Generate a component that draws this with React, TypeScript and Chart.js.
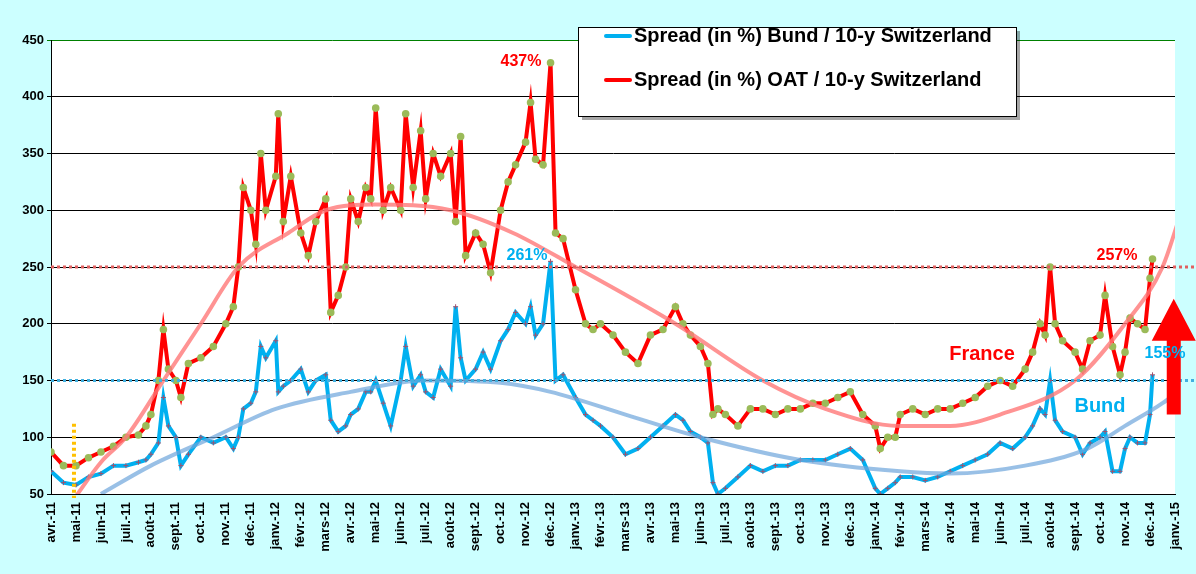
import React, { useEffect, useRef } from "react";
import { Chart, registerables } from "chart.js";
Chart.register(...registerables);

const monthLabels = ["avr.-11","mai-11","juin-11","juil.-11","août-11","sept.-11","oct.-11","nov.-11","déc.-11","janv.-12","févr.-12","mars-12","avr.-12","mai-12","juin-12","juil.-12","août-12","sept.-12","oct.-12","nov.-12","déc.-12","janv.-13","févr.-13","mars-13","avr.-13","mai-13","juin-13","juil.-13","août-13","sept.-13","oct.-13","nov.-13","déc.-13","janv.-14","févr.-14","mars-14","avr.-14","mai-14","juin-14","juil.-14","août-14","sept.-14","oct.-14","nov.-14","déc.-14","janv.-15"];

const oatX = [0,0.5,1,1.5,2,2.5,3,3.5,3.8,4,4.3,4.5,4.7,5,5.2,5.5,6,6.5,7,7.3,7.5,7.7,8,8.2,8.4,8.6,9,9.1,9.3,9.6,10,10.3,10.6,11,11.2,11.5,11.8,12,12.3,12.6,12.8,13,13.3,13.6,14,14.2,14.5,14.8,15,15.3,15.6,16,16.2,16.4,16.6,17,17.3,17.6,18,18.3,18.6,19,19.2,19.4,19.7,20,20.2,20.5,21,21.4,21.7,22,22.5,23,23.5,24,24.5,25,25.3,25.6,26,26.3,26.5,26.7,27,27.5,28,28.5,29,29.5,30,30.5,31,31.5,32,32.5,33,33.2,33.5,33.8,34,34.5,35,35.5,36,36.5,37,37.5,38,38.5,39,39.3,39.6,39.8,40,40.2,40.5,41,41.3,41.6,42,42.2,42.5,42.8,43,43.2,43.5,43.8,44,44.1];
const oatValues = [87,75,75,82,87,92,100,102,110,120,150,195,160,150,135,165,170,180,200,215,250,320,300,270,350,300,330,385,290,330,280,260,290,310,210,225,250,310,290,320,310,390,300,320,300,385,320,370,310,350,330,350,290,365,260,280,270,245,300,325,340,360,395,345,340,430,280,275,230,200,195,200,190,175,165,190,195,215,200,190,180,165,120,125,120,110,125,125,120,125,125,130,130,135,140,120,110,90,100,100,120,125,120,125,125,130,135,145,150,145,160,175,200,190,250,200,185,175,160,185,190,225,180,155,175,205,200,195,240,257];
const bundValues = [70,60,58,65,68,75,75,78,80,85,95,135,110,100,75,85,100,95,100,90,100,125,130,140,180,170,185,140,145,150,160,140,150,155,115,105,110,120,125,140,140,150,130,110,150,180,145,155,140,135,160,145,215,170,150,160,175,160,185,195,210,200,215,190,200,255,150,155,135,120,115,110,100,85,90,100,110,120,115,105,100,95,60,50,55,65,75,70,75,75,80,80,80,85,90,80,55,50,55,60,65,65,62,65,70,75,80,85,95,90,100,110,125,120,150,115,105,100,85,95,100,105,70,70,90,100,95,95,120,155];

const trendX = [0.9,2,3,4.5,6,7.5,9.5,11,13,16,18.5,21,25,28.5,31,34,36,38,41,43,44.5,45.2];
const oatTrend = [45,78,100,150,200,250,280,300,305,300,280,250,200,150,125,110,110,120,150,200,250,295];
const bundTrendX = [2,4,6.5,9,12,15,18,20,23,26,30,34,36,39,41.5,43,44.5,45.2];
const bundTrend = [50,75,100,125,140,150,148,140,120,100,80,70,68,75,90,110,130,142];

const pts = (xs: number[], ys: number[]) => xs.map((x, i) => ({ x, y: ys[i] }));
const FONT = "Arial, 'Liberation Sans', sans-serif";

export default function App() {
  const ref = useRef<HTMLCanvasElement>(null);
  useEffect(() => {
    const overlay = {
      id: "overlay",
      beforeDraw(c: any) {
        const { ctx, chartArea: a } = c;
        ctx.save();
        ctx.fillStyle = "#ccffff";
        ctx.fillRect(0, 0, c.width, c.height);
        ctx.fillStyle = "#ffffff";
        ctx.fillRect(a.left, a.top, a.right - a.left, a.bottom - a.top);
        ctx.restore();
      },
      afterDatasetsDraw(c: any) {
        const { ctx, chartArea: a, scales } = c;
        const xs = scales.x, ys = scales.y;
        ctx.save();
        ctx.setLineDash([3, 3]);
        ctx.lineWidth = 3;
        ctx.strokeStyle = "#e06060";
        ctx.beginPath(); ctx.moveTo(a.left, ys.getPixelForValue(250)); ctx.lineTo(a.right + 20, ys.getPixelForValue(250)); ctx.stroke();
        ctx.strokeStyle = "#40b0e0";
        ctx.beginPath(); ctx.moveTo(a.left, ys.getPixelForValue(150)); ctx.lineTo(a.right + 20, ys.getPixelForValue(150)); ctx.stroke();
        ctx.strokeStyle = "#ffc000";
        ctx.lineWidth = 4;
        ctx.beginPath(); ctx.moveTo(xs.getPixelForValue(0.92), ys.getPixelForValue(112)); ctx.lineTo(xs.getPixelForValue(0.92), a.bottom + 4); ctx.stroke();
        ctx.setLineDash([]);
        const ax = xs.getPixelForValue(44.95);
        ctx.fillStyle = "#ff0000";
        ctx.beginPath();
        ctx.moveTo(ax - 7, ys.getPixelForValue(120));
        ctx.lineTo(ax + 7, ys.getPixelForValue(120));
        ctx.lineTo(ax + 7, ys.getPixelForValue(185));
        ctx.lineTo(ax + 22, ys.getPixelForValue(185));
        ctx.lineTo(ax, ys.getPixelForValue(222));
        ctx.lineTo(ax - 22, ys.getPixelForValue(185));
        ctx.lineTo(ax - 7, ys.getPixelForValue(185));
        ctx.closePath(); ctx.fill();
        const txt = (s: string, x: number, y: number, col: string, size: number) => {
          ctx.font = `bold ${size}px ${FONT}`;
          ctx.fillStyle = col; ctx.textAlign = "center"; ctx.textBaseline = "middle";
          ctx.fillText(s, x, y);
        };
        txt("437%", 521, 62, "#ff0000", 16);
        txt("261%", 527, 256, "#00b0f0", 16);
        txt("257%", 1117, 256, "#ff0000", 16);
        txt("155%", 1165, 354, "#00b0f0", 16);
        txt("France", 982, 354, "#ff0000", 20);
        txt("Bund", 1100, 406, "#00b0f0", 20);
        ctx.fillStyle = "rgba(0,0,0,0.35)";
        ctx.fillRect(582, 31, 438, 89);
        ctx.fillStyle = "#ffffff";
        ctx.fillRect(578, 27, 438, 89);
        ctx.strokeStyle = "#000"; ctx.lineWidth = 1;
        ctx.strokeRect(578.5, 27.5, 438, 89);
        ctx.lineWidth = 4; ctx.lineCap = "round";
        ctx.strokeStyle = "#00b0f0"; ctx.beginPath(); ctx.moveTo(606, 36); ctx.lineTo(630, 36); ctx.stroke();
        ctx.strokeStyle = "#ff0000"; ctx.beginPath(); ctx.moveTo(606, 80); ctx.lineTo(630, 80); ctx.stroke();
        ctx.font = `bold 20px ${FONT}`;
        ctx.fillStyle = "#000"; ctx.textAlign = "left"; ctx.textBaseline = "middle";
        ctx.fillText("Spread (in %) Bund / 10-y Switzerland", 634, 36);
        ctx.fillText("Spread (in %) OAT / 10-y Switzerland", 634, 80);
        ctx.restore();
      },
    };
    const chart = new Chart(ref.current!, {
      type: "line",
      data: {
        datasets: [
          { label: "oatTrend", data: pts(trendX, oatTrend), borderColor: "rgba(255,120,120,0.8)", borderWidth: 4, pointRadius: 0, cubicInterpolationMode: "monotone" },
          { label: "bundTrend", data: pts(bundTrendX, bundTrend), borderColor: "rgba(110,165,220,0.7)", borderWidth: 4, pointRadius: 0, cubicInterpolationMode: "monotone" },
          { label: "OAT", data: pts(oatX, oatValues), borderColor: "#ff0000", borderWidth: 4, pointRadius: 1.8, pointBackgroundColor: "#9bbb59", pointBorderColor: "#9bbb59" },
          { label: "Bund", data: pts(oatX, bundValues), borderColor: "#00b0f0", borderWidth: 4, pointRadius: 2.5, pointStyle: "cross", pointBorderColor: "#a0506d", pointBorderWidth: 1 },
        ],
      } as any,
      options: {
        responsive: false,
        animation: false,
        layout: { padding: { top: 40, right: 21, left: 0, bottom: 0 } },
        plugins: { legend: { display: false }, tooltip: { enabled: false } },
        scales: {
          x: {
            type: "linear", min: 0, max: 45,
            afterFit: (s: any) => { s.height = 80; },
            afterBuildTicks: (s: any) => { s.ticks = monthLabels.map((_, i) => ({ value: i })); },
            ticks: {
              autoSkip: false, minRotation: 90, maxRotation: 90, color: "#000",
              font: { family: FONT, size: 13, weight: "bold" },
              callback: (v: any) => monthLabels[v] ?? "",
            },
            grid: { display: false, drawTicks: true, tickLength: 5, color: "#000" },
            border: { color: "#000" },
          },
          y: {
            min: 50, max: 450,
            afterFit: (s: any) => { s.width = 51; },
            ticks: { stepSize: 50, color: "#000", font: { family: FONT, size: 13, weight: "bold" } },
            grid: { color: (c: any) => (c.tick && c.tick.value === 450 ? "#008000" : "#000"), tickLength: 4 },
            border: { color: "#000" },
          },
        },
      } as any,
      plugins: [overlay],
    });
    return () => chart.destroy();
  }, []);
  return (
    <div style={{ position: "fixed", left: 0, top: 0, width: 1196, height: 574 }}>
      <canvas ref={ref} width={1196} height={574} style={{ width: 1196, height: 574 }} />
    </div>
  );
}
